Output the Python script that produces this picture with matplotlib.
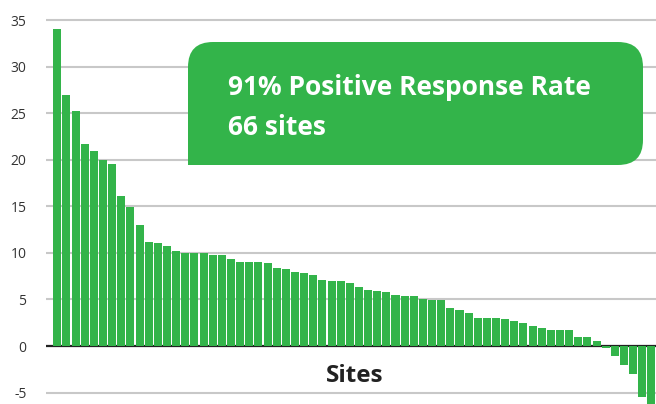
import matplotlib
matplotlib.use("Agg")
import matplotlib.pyplot as plt
from matplotlib.patches import FancyBboxPatch, Rectangle
import numpy as np

values = [34.0, 27.0, 25.2, 21.7, 20.9, 20.0, 19.5, 16.1, 14.9, 13.0,
          11.2, 11.1, 10.7, 10.2, 10.0, 10.0, 10.0, 9.8, 9.8, 9.3,
          9.0, 9.0, 9.0, 8.9, 8.4, 8.3, 7.9, 7.8, 7.6, 7.1,
          7.0, 7.0, 6.8, 6.3, 6.0, 5.9, 5.8, 5.5, 5.4, 5.4,
          5.0, 4.9, 4.9, 4.1, 3.9, 3.5, 3.0, 3.0, 3.0, 2.9,
          2.7, 2.5, 2.2, 1.9, 1.7, 1.7, 1.7, 1.0, 1.0, 0.5,
          -0.2, -1.1, -2.0, -3.0, -5.5, -6.5]
yticks = [-5, 0, 5, 10, 15, 20, 25, 30, 35]
box_line1 = "91% Positive Response Rate"
box_line2 = "66 sites"
xlabel = "Sites"

GREEN = "#33b44a"
plt.rcParams['font.family'] = ['Open Sans', 'DejaVu Sans']

W, H = 656, 404
fig = plt.figure(figsize=(W / 100, H / 100), dpi=100)
ax = fig.add_axes([46 / W, 0, 1 - 46 / W, 1])

x = np.arange(len(values))
ax.bar(x, values, width=0.88, color=GREEN, zorder=3)
ax.axhline(0, color="#222222", lw=1.6, zorder=2)
ax.set_xlim(-1.24, len(values) - 0.5)
ax.set_ylim(-58 / 9.314, 346 / 9.314)
ax.set_yticks(yticks)
ax.set_yticklabels([str(t) for t in yticks], fontsize=10, color="#333333")
ax.set_xticks([])
ax.tick_params(axis='y', length=0, pad=14)
ax.yaxis.grid(True, color="#c8c8c8", lw=1.5, zorder=0)
ax.set_axisbelow(True)
for s in ax.spines.values():
    s.set_visible(False)

# overlay in pixel coords
ov = fig.add_axes([0, 0, 1, 1], facecolor="none")
ov.set_xlim(0, W)
ov.set_ylim(0, H)
ov.axis("off")
bx0, bx1, by0, by1 = 188, 643, H - 165, H - 42
r = 25
ov.add_patch(FancyBboxPatch((bx0, by0), bx1 - bx0, by1 - by0,
                            boxstyle=f"round,pad=0,rounding_size={r}",
                            facecolor=GREEN, edgecolor="none", zorder=5))
ov.add_patch(Rectangle((bx0, by0), r + 2, r + 2, facecolor=GREEN,
                       edgecolor="none", zorder=5))
ov.text(228, H - 95, box_line1, color="white", fontsize=19, fontweight="bold",
        va="baseline", ha="left", zorder=6)
ov.text(228, H - 135, box_line2, color="white", fontsize=19, fontweight="bold",
        va="baseline", ha="left", zorder=6)
ov.text(355, H - 382, xlabel, color="#222222", fontsize=17.5, fontweight="bold",
        va="baseline", ha="center", zorder=6)

fig.savefig("out.png", dpi=100)
